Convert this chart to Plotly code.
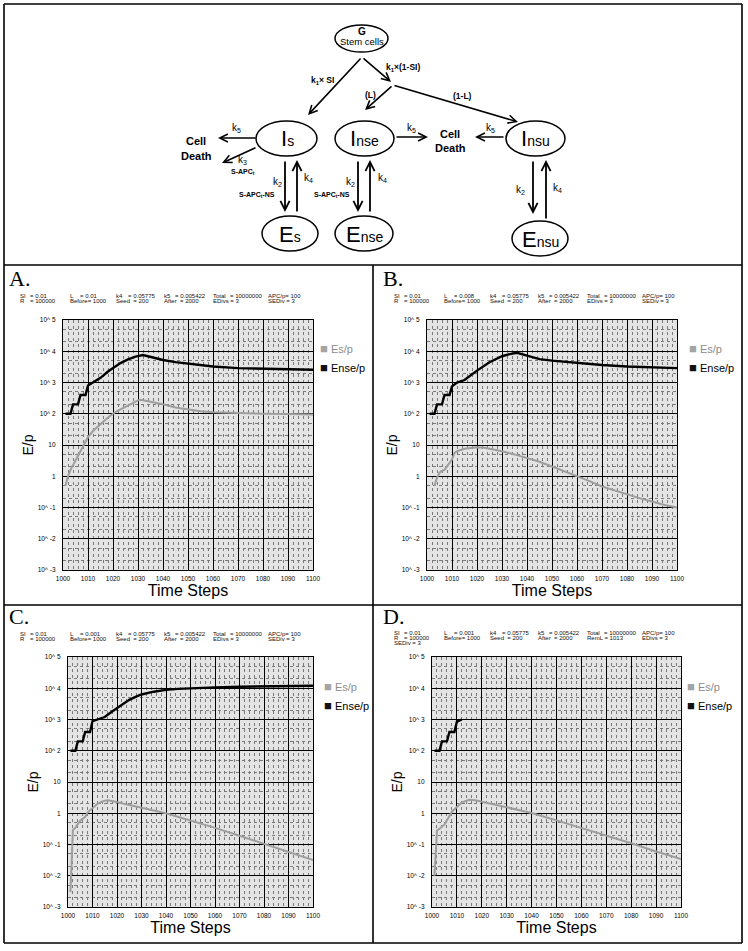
import plotly.graph_objects as go

W, H = 748, 951
FONT = "Arial, Liberation Sans, sans-serif"

# ---------------- data ----------------
x_ticks = [1000, 1010, 1020, 1030, 1040, 1050, 1060, 1070, 1080, 1090, 1100]
y_tick_vals = [1e-3, 1e-2, 1e-1, 1, 10, 100, 1000, 10000, 100000]
y_tick_text = ["10^ -3", "10^ -2", "10^ -1", "1", "10", "10^ 2", "10^ 3", "10^ 4", "10^ 5"]
series_names = ["Es/p", "Ense/p"]
panel_letters = ["A.", "B.", "C.", "D."]
L_values = ["0.01", "0.008", "0.001", "0.001"]

# Panel A
es_a_t = [1001, 1002, 1003, 1004, 1005, 1006, 1007, 1008, 1009, 1010, 1012, 1014, 1016, 1018, 1020, 1022,
          1025, 1028, 1030, 1031, 1033, 1036, 1040, 1045, 1050, 1055, 1060, 1070, 1080, 1090, 1100]
es_a = [0.5, 1.0, 1.6, 2.2, 3.2, 4.5, 6.3, 8.9, 12.6, 17.8, 28, 40, 56, 76, 100, 126,
        166, 224, 269, 282, 263, 234, 200, 158, 135, 120, 112, 105, 100, 98, 95]
ense_a_t = [1001, 1002, 1003, 1004, 1005, 1006, 1007, 1008, 1009, 1010, 1012, 1015, 1018, 1020, 1023, 1026,
            1029, 1032, 1035, 1040, 1045, 1050, 1055, 1060, 1070, 1080, 1090, 1100]
ense_a = [100, 100, 100, 200, 200, 200, 400, 400, 400, 800, 1000, 1410, 2240, 2950, 4170, 5500,
          6760, 7590, 6610, 5250, 4470, 3980, 3550, 3240, 2880, 2750, 2630, 2570]

# Panel B
es_b_t = [1003, 1004, 1005, 1006, 1007, 1008, 1009, 1010, 1011, 1012, 1015, 1018, 1020, 1023, 1025, 1030,
          1035, 1040, 1045, 1050, 1055, 1060, 1065, 1070, 1075, 1080, 1085, 1090, 1095, 1100]
es_b = [0.5, 0.9, 1.3, 1.5, 1.6, 2.0, 2.7, 3.4, 5.6, 6.3, 7.6, 8.3, 8.5, 8.1, 7.6, 6.3,
        5.0, 3.8, 2.9, 2.05, 1.45, 1.0, 0.7, 0.47, 0.35, 0.26, 0.2, 0.155, 0.12, 0.1]
ense_b_t = [1001, 1002, 1003, 1004, 1005, 1006, 1007, 1008, 1009, 1010, 1012, 1015, 1020, 1025, 1030, 1033,
            1036, 1040, 1045, 1050, 1060, 1070, 1080, 1090, 1100]
ense_b = [100, 100, 100, 200, 200, 200, 400, 400, 400, 750, 1000, 1200, 2400, 4470, 6920, 8130,
          8910, 7240, 5620, 5010, 4170, 3630, 3240, 3020, 2880]

# Panel C
es_c_t = [1001, 1002, 1003, 1005, 1007, 1008, 1010, 1012, 1014, 1016, 1018, 1020, 1030, 1040, 1050, 1060,
          1070, 1080, 1090, 1100]
es_c = [0.003, 0.29, 0.34, 0.59, 0.76, 1.07, 1.45, 2.0, 2.4, 2.6, 2.45, 2.24, 1.51, 1.0, 0.59, 0.34,
        0.19, 0.105, 0.059, 0.032]
ense_c_t = [1001, 1002, 1003, 1004, 1005, 1006, 1007, 1008, 1009, 1010, 1012, 1015, 1018, 1020, 1023, 1025,
            1028, 1030, 1035, 1040, 1045, 1050, 1060, 1070, 1080, 1090, 1100]
ense_c = [100, 100, 100, 200, 200, 200, 400, 400, 400, 890, 1000, 1200, 1800, 2340, 3400, 4270,
          5500, 6310, 7760, 8910, 9550, 10000, 10700, 11200, 11500, 11700, 12000]

# Panel D
es_d_t = [1001, 1002, 1003, 1005, 1008, 1010, 1012, 1015, 1018, 1020, 1030, 1040, 1050, 1060, 1070, 1080,
          1090, 1100]
es_d = [0.01, 0.28, 0.32, 0.43, 1.12, 1.55, 2.24, 2.7, 2.57, 2.34, 1.55, 1.02, 0.59, 0.34, 0.19, 0.11,
        0.06, 0.034]
ense_d_t = [1001, 1002, 1003, 1004, 1005, 1006, 1007, 1008, 1009, 1010, 1011, 1012]
ense_d = [100, 100, 100, 200, 200, 200, 400, 400, 400, 850, 900, 1000]

# header parameter rows
header_row1 = ["SI", "= 0.01", "L", None, "k4", "= 0.05775", "k5", "= 0.005422", "Total", "= 10000000", "APC/p= 100"]
header_row2_std = ["R", "= 100000", "Before= 1000", "Seed  = 200", "After  = 2000", "EDivs = 3", "SEDiv = 3"]
header_row2_d = ["R", "= 100000", "Before= 1000", "Seed  = 200", "After  = 2000", "RemL = 1013", "EDivs = 3"]
header_row3_d = ["SEDiv = 3"]

es_series = [(es_a_t, es_a), (es_b_t, es_b), (es_c_t, es_c), (es_d_t, es_d)]
ense_series = [(ense_a_t, ense_a), (ense_b_t, ense_b), (ense_c_t, ense_c), (ense_d_t, ense_d)]

# ---------------- layout geometry (pixels) ----------------
panels = [
    dict(left=0, plot=(63, 313, 320, 570), letter_y=279, rows=[296, 301], legend=(280, 334)),
    dict(left=374, plot=(427, 677, 320, 570), letter_y=279, rows=[296, 301], legend=(649, 334)),
    dict(left=0, plot=(68, 313, 657, 907), letter_y=616, rows=[634, 639], legend=(284, 672)),
    dict(left=374, plot=(432, 681, 657, 907), letter_y=616, rows=[633, 638, 643], legend=(647, 672)),
]
row1_dx = [18, 28, 68, 78, 114, 126, 162, 173, 211, 228, 266]
row2_dx = [18, 28, 68, 114, 162, 211, 266]

fig = go.Figure()
annotations = []
shapes = []


def X(px):
    return px / W


def Y(py):
    return 1 - py / H


def txt(x, y, s, size=10, bold=False, xanchor="center", color="black", family=FONT):
    if bold:
        s = "<b>" + s + "</b>"
    annotations.append(dict(x=X(x), y=Y(y), xref="paper", yref="paper", text=s, showarrow=False,
                            font=dict(size=size, family=family, color=color),
                            xanchor=xanchor, yanchor="middle"))


def arrow(x0, y0, x1, y1, width=1.6):
    annotations.append(dict(x=X(x1), y=Y(y1), xref="paper", yref="paper", ax=x0 - x1, ay=y0 - y1,
                            axref="pixel", ayref="pixel", text="", showarrow=True, arrowhead=5,
                            arrowsize=1, arrowwidth=width, arrowcolor="black"))


def line(x0, y0, x1, y1, width=1.5):
    shapes.append(dict(type="line", xref="paper", yref="paper", x0=X(x0), y0=Y(y0), x1=X(x1), y1=Y(y1),
                       line=dict(color="black", width=width)))


def ellipse(x0, y0, x1, y1):
    shapes.append(dict(type="circle", xref="paper", yref="paper", x0=X(x0), x1=X(x1), y0=Y(y1), y1=Y(y0),
                       line=dict(color="black", width=1.5)))


# ---------------- panels ----------------
layout_axes = {}
legend_swatch = ["#a4a4a4", "#111111"]
legend_text_color = ["#8c8c8c", "#000000"]
for i, p in enumerate(panels):
    n = "" if i == 0 else str(i + 1)
    xa, ya = "x" + n, "y" + n
    lg = "legend" + n
    l, r, t, b = p["plot"]
    et, ev = es_series[i]
    nt, nv = ense_series[i]
    fig.add_trace(go.Scatter(x=et, y=ev, mode="lines", line=dict(color="#9e9e9e", width=2),
                             xaxis=xa, yaxis=ya, showlegend=False, name=series_names[0]))
    fig.add_trace(go.Scatter(x=nt, y=nv, mode="lines", line=dict(color="black", width=2.4),
                             xaxis=xa, yaxis=ya, showlegend=False, name=series_names[1]))
    for k in range(2):
        label = ("<span style='color:%s;font-size:13px'>■</span> <span style='color:%s'>%s</span>"
                 % (legend_swatch[k], legend_text_color[k], series_names[k]))
        fig.add_trace(go.Scatter(x=[None], y=[None], mode="markers", xaxis=xa, yaxis=ya, legend=lg,
                                 marker=dict(symbol="square", size=1, color="rgba(0,0,0,0)"),
                                 name=label))
    layout_axes["xaxis" + n] = dict(
        domain=[X(l), X(r)], range=[1000, 1100], anchor=ya,
        tickmode="array", tickvals=x_ticks, ticktext=[str(v) for v in x_ticks],
        ticks="", ticklabelstandoff=2, tickfont=dict(size=6.5, color="black", family=FONT),
        showgrid=True, gridcolor="black", gridwidth=1.4,
        minor=dict(dtick=2, showgrid=True, gridcolor="#7a7a7a", griddash="dot", gridwidth=1),
        showline=True, linecolor="black", linewidth=1.4, mirror=True, zeroline=False,
        title=dict(text="Time Steps", font=dict(size=16, family=FONT, color="black"), standoff=0),
        automargin=False, fixedrange=True)
    layout_axes["yaxis" + n] = dict(
        domain=[Y(b), Y(t)], type="log", range=[-3, 5], anchor=xa,
        tickmode="array", tickvals=y_tick_vals, ticktext=y_tick_text,
        ticks="", ticklabelstandoff=5, tickfont=dict(size=6.5, color="black", family=FONT),
        showgrid=True, gridcolor="black", gridwidth=1.4,
        minor=dict(dtick="D2", showgrid=True, gridcolor="#7a7a7a", griddash="dot", gridwidth=1),
        showline=True, linecolor="black", linewidth=1.4, mirror=True, zeroline=False,
        title=dict(text="E/p", font=dict(size=14, family=FONT, color="black"), standoff=0),
        automargin=False, fixedrange=True)
    lx, ly = p["legend"]
    layout_axes[lg] = dict(x=X(lx), y=Y(ly), xanchor="left", yanchor="top", xref="paper", yref="paper",
                           bgcolor="rgba(0,0,0,0)", font=dict(size=11, family=FONT, color="black"),
                           itemwidth=30, tracegroupgap=0)

    # panel letter and header text
    L0 = p["left"]
    txt(L0 + 7, p["letter_y"], panel_letters[i], size=22, xanchor="left",
        family="Liberation Serif, Times New Roman, serif")
    r1 = list(header_row1)
    r1[3] = "= " + L_values[i]
    for dx, s in zip(row1_dx, r1):
        txt(L0 + dx, p["rows"][0], s, size=6, xanchor="left", color="#111111")
    r2 = header_row2_d if i == 3 else header_row2_std
    for dx, s in zip(row2_dx, r2):
        txt(L0 + dx, p["rows"][1], s, size=6, xanchor="left", color="#111111")
    if i == 3:
        for s in header_row3_d:
            txt(L0 + 18, p["rows"][2], s, size=6, xanchor="left", color="#111111")

# ---------------- frame ----------------
line(4, 4, 742, 4, 1.6)
line(4, 4, 4, 943, 1.6)
line(742, 4, 742, 943, 1.6)
line(4, 943, 742, 943, 1.6)
line(4, 265, 742, 265, 1.6)
line(4, 605, 742, 605, 1.6)
line(373, 265, 373, 943, 1.6)

# ---------------- model diagram ----------------
ellipse(335, 25, 388, 52)
txt(362, 31, "G", size=10, bold=True)
txt(362, 42, "Stem cells", size=9.5)

arrow(362, 57, 308, 115)
arrow(362, 57, 391, 82)
arrow(393, 85, 365, 110)
arrow(393, 85, 518, 122)
txt(322, 80, "k<sub>1</sub>× SI", size=8.5, bold=True)
txt(403, 67, "k<sub>1</sub>×(1-SI)", size=8.5, bold=True)
txt(370, 95, "(L)", size=8.5, bold=True)
txt(462, 96, "(1-L)", size=8.5, bold=True)

ellipse(256, 121, 317, 156)
ellipse(335, 121, 394, 156)
ellipse(506, 121, 565, 156)
ellipse(262, 216, 318, 251)
ellipse(335, 216, 393, 251)
ellipse(512, 221, 568, 256)
sub = "<span style='font-size:14px'>{}</span>"
txt(287, 139, "I" + sub.format("s"), size=22)
txt(364, 139, "I" + sub.format("nse"), size=22)
txt(535, 139, "I" + sub.format("nsu"), size=22)
txt(290, 234, "E" + sub.format("s"), size=22)
txt(364, 234, "E" + sub.format("nse"), size=22)
txt(540, 239, "E" + sub.format("nsu"), size=22)

txt(196, 141, "Cell", size=11, bold=True)
txt(196, 156, "Death", size=11, bold=True)
txt(450, 134, "Cell", size=11, bold=True)
txt(450, 148, "Death", size=11, bold=True)
arrow(257, 138, 218, 138)
arrow(257, 147, 222, 163)
arrow(395, 137, 428, 137)
arrow(505, 137, 475, 137)
txt(236, 128, "k<sub>5</sub>", size=10)
txt(411, 128, "k<sub>5</sub>", size=10)
txt(491, 128, "k<sub>5</sub>", size=10)
txt(242, 160, "k<sub>3</sub>", size=10)
txt(243, 172, "S-APC<sub>t</sub>", size=7, bold=True)

arrow(285, 160, 285, 212, 1.8)
arrow(297, 213, 297, 160, 1.8)
arrow(358, 160, 358, 212, 1.8)
arrow(370, 213, 370, 160, 1.8)
arrow(533, 160, 533, 214, 1.8)
arrow(546, 220, 546, 160, 1.8)
txt(277, 182, "k<sub>2</sub>", size=10)
txt(257, 195, "S-APC<sub>t</sub>-NS", size=7, bold=True)
txt(308, 178, "k<sub>4</sub>", size=10)
txt(350, 182, "k<sub>2</sub>", size=10)
txt(332, 195, "S-APC<sub>t</sub>-NS", size=7, bold=True)
txt(382, 178, "k<sub>4</sub>", size=10)
txt(520, 190, "k<sub>2</sub>", size=10)
txt(557, 188, "k<sub>4</sub>", size=10)

fig.update_layout(
    width=W, height=H, autosize=False,
    margin=dict(l=0, r=0, t=0, b=0),
    paper_bgcolor="white", plot_bgcolor="#e4e4e4",
    font=dict(family=FONT, color="black"),
    annotations=annotations, shapes=shapes,
    **layout_axes,
)

fig.write_html("out.html", config={"displayModeBar": False},
               post_script="document.body.style.margin='0px';document.body.style.overflow='hidden';")
